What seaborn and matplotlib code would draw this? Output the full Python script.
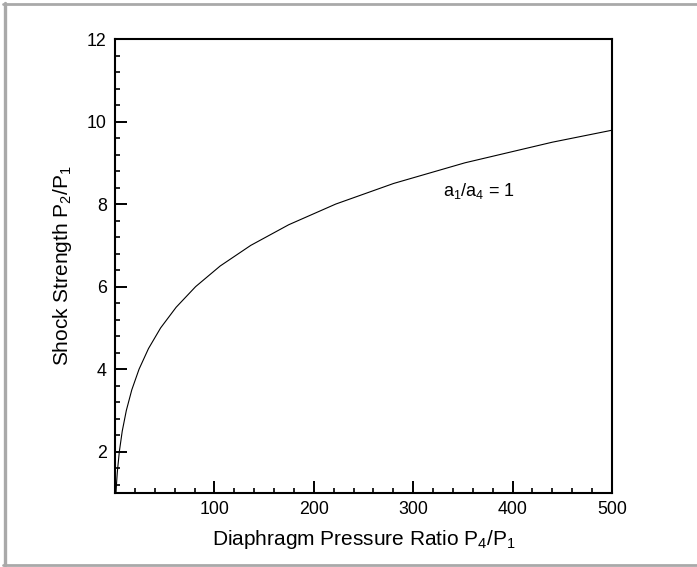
import matplotlib
matplotlib.use("Agg")
import matplotlib.pyplot as plt
import seaborn as sns
import pandas as pd
from matplotlib.lines import Line2D
from matplotlib.ticker import MultipleLocator

# Data: diaphragm pressure ratio P4/P1 vs shock strength P2/P1
pressure_ratio = [1.0, 1.45, 2.31, 4.34, 7.29, 11.4, 16.9, 24.2, 33.7, 45.9,
                  61.5, 81.1, 105.8, 136.6, 174.8, 222.0, 280.3, 352.0, 440.0, 500.0]
shock_strength = [1.0, 1.2, 1.5, 2.0, 2.5, 3.0, 3.5, 4.0, 4.5, 5.0,
                  5.5, 6.0, 6.5, 7.0, 7.5, 8.0, 8.5, 9.0, 9.5, 9.79]
x_ticks = [100, 200, 300, 400, 500]
y_ticks = [2, 4, 6, 8, 10, 12]
annotation = r"a$_1$/a$_4$ = 1"

sns.set_theme(style="white")
plt.rcParams["font.family"] = ["Liberation Sans", "DejaVu Sans"]
plt.rcParams["mathtext.default"] = "regular"
plt.rcParams["mathtext.fontset"] = "custom"
plt.rcParams["mathtext.rm"] = "Liberation Sans"
plt.rcParams["mathtext.it"] = "Liberation Sans"

df = pd.DataFrame({"P4/P1": pressure_ratio, "P2/P1": shock_strength})

fig = plt.figure(figsize=(6.97, 5.67), dpi=100)
ax = fig.add_axes([115 / 697, 1 - 493 / 567, (612 - 115) / 697, (493 - 39) / 567])

sns.lineplot(data=df, x="P4/P1", y="P2/P1", ax=ax, color="black", linewidth=0.8,
             sort=False, estimator=None)

ax.set_xlim(0, 500)
ax.set_ylim(1, 12)
ax.set_xticks(x_ticks)
ax.set_yticks(y_ticks)
ax.xaxis.set_minor_locator(MultipleLocator(20))
ax.yaxis.set_minor_locator(MultipleLocator(0.4))
ax.tick_params(which="both", bottom=True, left=True, top=False, right=False)
ax.tick_params(which="major", direction="in", length=8.5, width=1.4, labelsize=12.8,
               pad=6, color="black", labelcolor="black")
ax.tick_params(which="minor", direction="in", length=3.6, width=1.2, color="black")
for s in ax.spines.values():
    s.set_linewidth(1.5)
    s.set_color("black")
    s.set_visible(True)

ax.set_xlabel(r"Diaphragm Pressure Ratio P$_4$/P$_1$", fontsize=15, labelpad=7, color="black")
ax.set_ylabel(r"Shock Strength P$_2$/P$_1$", fontsize=15, labelpad=9, color="black")
ax.text(330, 8.32, annotation, fontsize=13, ha="left", va="center", color="black")

# gray outer frame (left, top, bottom visible)
gray = "#a9a9a9"
fig.add_artist(Line2D([5 / 697, 5 / 697], [1 - 565 / 567, 1 - 3 / 567], transform=fig.transFigure,
                      color=gray, linewidth=2.4))
fig.add_artist(Line2D([3 / 697, 1.0], [1 - 4 / 567, 1 - 4 / 567], transform=fig.transFigure,
                      color=gray, linewidth=2.0))
fig.add_artist(Line2D([3 / 697, 1.0], [1 - 565 / 567, 1 - 565 / 567], transform=fig.transFigure,
                      color=gray, linewidth=2.0))

fig.savefig("out.png", dpi=100)
